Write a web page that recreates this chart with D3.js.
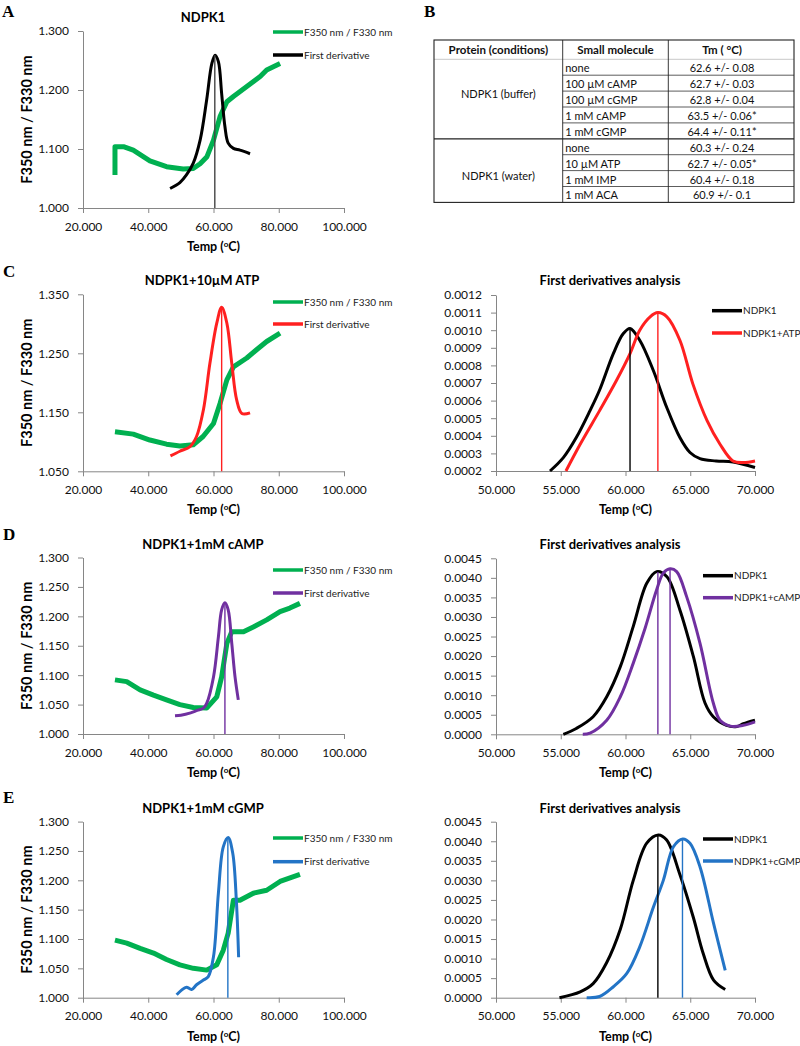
<!DOCTYPE html>
<html>
<head>
<meta charset="utf-8">
<script src="https://cdn.jsdelivr.net/npm/d3@7"></script>
<style>
  body { margin: 0; background: #fff; }
  svg { display: block; font-family: Lato, "Open Sans", sans-serif; }
</style>
</head>
<body>
<svg id="fig" width="800" height="1046"></svg>
<script>
// ---- data (temperature in C, ratio / first derivative) ----
const ratioA = [[29.8,1.056],[29.8,1.104],[32.4,1.104],[35.4,1.098],[40.5,1.080],[45.6,1.070],[50.7,1.066],[53.8,1.067],[55.9,1.075],[58,1.087],[60,1.115],[62,1.155],[64.1,1.180],[66.1,1.189],[70.2,1.206],[74.3,1.223],[76.3,1.234],[78.5,1.240],[80.4,1.245]];
const derivA = [[46.7,1.033],[49.7,1.043],[51.7,1.056],[53.8,1.076],[55.9,1.115],[57.9,1.183],[59.5,1.245],[60.5,1.259],[61.5,1.248],[62.5,1.194],[63.5,1.138],[64.5,1.110],[66.1,1.101],[68.1,1.098],[71.2,1.092]];

const ratioC = [[29.8,1.117],[35.4,1.113],[40.5,1.103],[45.6,1.096],[49.7,1.093],[53.8,1.095],[56.8,1.109],[60,1.131],[62,1.165],[64.1,1.205],[66.1,1.227],[70.2,1.242],[73.2,1.256],[76.3,1.270],[80.4,1.284]];
const derivC = [[46.8,1.076],[49.7,1.084],[52.8,1.092],[54.8,1.109],[56.9,1.154],[58.9,1.233],[61,1.301],[62.5,1.328],[64.1,1.301],[65.6,1.233],[67.1,1.171],[68.7,1.148],[71.2,1.149]];

const ratioD = [[29.8,1.092],[33.4,1.089],[37.5,1.075],[41.6,1.066],[45.6,1.058],[49.7,1.050],[53.8,1.045],[57.9,1.044],[61,1.063],[62.5,1.097],[64.1,1.154],[65.6,1.174],[69.2,1.174],[72.2,1.182],[76.3,1.194],[80.4,1.208],[83.4,1.214],[86.5,1.222]];
const derivD = [[48.2,1.031],[50,1.032],[53,1.036],[55,1.040],[56.9,1.044],[57.9,1.052],[60,1.097],[61.5,1.165],[62.5,1.211],[63.5,1.223],[64.5,1.211],[65.6,1.154],[66.6,1.097],[67.6,1.058]];

const ratioE = [[29.8,1.098],[33.4,1.093],[37.5,1.084],[41.6,1.076],[45.6,1.065],[49.7,1.056],[53.8,1.050],[57.9,1.047],[61,1.056],[63,1.081],[64.5,1.110],[66.1,1.166],[68.1,1.166],[72.2,1.178],[76.3,1.183],[80.4,1.198],[86.5,1.210]];
const derivE = [[48.7,1.005],[50.2,1.013],[51.7,1.018],[53.3,1.014],[54.8,1.022],[56.9,1.030],[58.4,1.036],[60,1.070],[61.5,1.178],[63,1.257],[64.5,1.273],[65.9,1.246],[67,1.166],[67.7,1.069]];

const ndpkC = [[54.17,0.0002],[55.2,0.000276],[56.2,0.00039],[57.26,0.000543],[58.0,0.00066],[59.06,0.000867],[59.83,0.000981],[60.35,0.00101],[61.1,0.000943],[62.15,0.000771],[63.18,0.000562],[64.2,0.00039],[64.98,0.000305],[65.75,0.00027],[67.0,0.000257],[68.3,0.000251],[70,0.00022]];
const atpC = [[55.4,0.0002],[56.5,0.000352],[58.0,0.000543],[59.3,0.000714],[60.35,0.000867],[61.1,0.001],[61.9,0.001076],[62.5,0.0011],[63.2,0.001076],[64.2,0.000943],[65.2,0.000695],[66.3,0.000486],[67.3,0.000352],[68.3,0.000257],[69.1,0.000248],[70,0.000257]];

const ndpkD = [[55.2,0],[56.2,0.00015],[57.5,0.00045],[58.55,0.00096],[59.6,0.00173],[60.6,0.00276],[61.64,0.00386],[62.4,0.00416],[63.2,0.00403],[64.2,0.00318],[65.24,0.00199],[66.14,0.0008],[66.78,0.00045],[67.8,0.00023],[68.6,0.0002],[69.1,0.00027],[70,0.00036]];
const campD = [[56.7,0],[57.26,0.00003],[58.55,0.00036],[59.6,0.00096],[60.6,0.00182],[61.5,0.0027],[62.4,0.00369],[62.92,0.00412],[63.44,0.00423],[63.95,0.00416],[64.72,0.00352],[65.75,0.00233],[66.78,0.0008],[67.3,0.00036],[68.1,0.00021],[69.1,0.00023],[70,0.00032]];

const ndpkE = [[54.9,0],[56.5,0.00015],[57.5,0.00036],[58.55,0.0009],[59.6,0.00175],[60.6,0.003],[61.64,0.00395],[62.53,0.00416],[63.18,0.00403],[64.2,0.00315],[65.24,0.00205],[66.0,0.00113],[66.8,0.00045],[67.7,0.00021]];
const cgmpE = [[57,0],[58,0.00003],[59.06,0.00028],[60.1,0.00062],[61.1,0.0013],[62.15,0.00231],[62.92,0.003],[63.7,0.00386],[64.42,0.00406],[64.98,0.00395],[65.75,0.00335],[66.8,0.0019],[67.7,0.0007]];

// Tm marker lines: [temperature, top value]
const tmA = [[60.4,1.259]];
const tmC = [[62.5,1.328]];
const tmD = [[63.5,1.223]];
const tmE = [[64.4,1.273]];
const tmCr = [[60.35,0.00101],[62.5,0.0011]];
const tmDr = [[62.5,0.00415],[63.44,0.00423]];
const tmEr = [[62.5,0.00416],[64.4,0.00406]];

// ticks
const xTicksLeft = [20, 40, 60, 80, 100];
const xTicksRight = [50, 55, 60, 65, 70];
const yTicksA = [1.0, 1.1, 1.2, 1.3];
const yTicksC = [1.05, 1.15, 1.25, 1.35];
const yTicksDE = [1.0, 1.05, 1.1, 1.15, 1.2, 1.25, 1.3];
const yTicksCr = [0.0002,0.0003,0.0004,0.0005,0.0006,0.0007,0.0008,0.0009,0.0010,0.0011,0.0012];
const yTicksDEr = [0,0.0005,0.001,0.0015,0.002,0.0025,0.003,0.0035,0.004,0.0045];

// table B
const tableHeader = ["Protein (conditions)", "Small molecule", "Tm ( \u00B0C)"];
const tableProtein = ["NDPK1 (buffer)", "NDPK1 (water)"];
const tableMolecule = ["none","100 \u00B5M cAMP","100 \u00B5M cGMP","1 mM cAMP","1 mM cGMP","none","10 \u00B5M ATP","1 mM IMP","1 mM ACA"];
const tableTm = ["62.6 +/- 0.08","62.7 +/- 0.03","62.8 +/- 0.04","63.5 +/- 0.06*","64.4 +/- 0.11*","60.3 +/- 0.24","62.7 +/- 0.05*","60.4 +/- 0.18","60.9 +/- 0.1"];

const GREEN = "#00b050", RED = "#ff2020", PURPLE = "#7030a0", BLUE = "#2374c6", BLACK = "#000";

const svg = d3.select("#fig");

function tempLabel(sel) {
  sel.append("tspan").text("Temp (");
  sel.append("tspan").attr("font-size", 8).attr("dy", -4).text("o");
  sel.append("tspan").attr("dy", 4).text("C)");
}

function drawChart(cfg) {
  const x = d3.scaleLinear().domain(cfg.xDomain).range(cfg.xRange);
  const y = d3.scaleLinear().domain(cfg.yDomain).range(cfg.yRange);
  const g = svg.append("g");

  const yAxis = g.append("g")
    .attr("transform", "translate(" + cfg.xRange[0] + ",0)")
    .call(d3.axisLeft(y).tickValues(cfg.yTicks).tickFormat(d3.format(cfg.yFmt)).tickSize(5).tickSizeOuter(0).tickPadding(9));
  const xAxis = g.append("g")
    .attr("transform", "translate(0," + cfg.yRange[0] + ")")
    .call(d3.axisBottom(x).tickValues(cfg.xTicks).tickFormat(d3.format(".3f")).tickSize(5).tickSizeOuter(0).tickPadding(9));
  [xAxis, yAxis].forEach(a => {
    a.select(".domain").attr("stroke", "#868686");
    a.selectAll(".tick line").attr("stroke", "#868686");
    a.selectAll(".tick text").attr("font-size", 12).attr("fill", "#111").attr("font-family", "Lato");
  });

  const line = d3.line().x(d => x(d[0])).y(d => y(d[1]));
  cfg.series.forEach(s => {
    g.append("path").datum(s.data)
      .attr("d", line.curve(s.smooth ? d3.curveCatmullRom : d3.curveLinear)(s.data))
      .attr("fill", "none").attr("stroke", s.color).attr("stroke-width", s.width)
      .attr("stroke-linejoin", "round").attr("stroke-linecap", "butt");
  });

  g.selectAll(".tm").data(cfg.tm).join("line")
    .attr("x1", d => x(d[0])).attr("x2", d => x(d[0]))
    .attr("y1", y(cfg.yDomain[0])).attr("y2", d => y(d[1]))
    .attr("stroke", (d, i) => cfg.tmColors[i]).attr("stroke-width", 1.4);

  // legend
  cfg.series.forEach((s, i) => {
    const ly = cfg.legendY[i];
    g.append("line").attr("x1", cfg.legendX).attr("x2", cfg.legendX + 30)
      .attr("y1", ly).attr("y2", ly).attr("stroke", s.color).attr("stroke-width", 3.5);
    g.append("text").attr("x", cfg.legendX + 31).attr("y", ly).attr("dy", "0.35em")
      .attr("font-size", 10).attr("fill", "#222").text(s.name);
  });

  g.append("text").attr("x", cfg.titleX).attr("y", cfg.titleY).attr("dy", "0.35em")
    .attr("text-anchor", "middle").attr("font-weight", "bold").attr("font-size", 13).text(cfg.title);

  g.append("text").attr("x", (cfg.xRange[0] + cfg.xRange[1]) / 2).attr("y", cfg.yRange[0] + 43)
    .attr("text-anchor", "middle").attr("font-weight", "bold").attr("font-size", 12.5).call(tempLabel);

  if (cfg.yLabel) {
    const cy = (cfg.yRange[0] + cfg.yRange[1]) / 2;
    g.append("text").attr("transform", "translate(27," + cy + ") rotate(-90)")
      .attr("dy", "0.35em").attr("text-anchor", "middle").attr("font-weight", "bold")
      .attr("font-size", 14.5).text(cfg.yLabel);
  }
}

const leftX = [83, 344], rightX = [496, 755];
const yLab = "F350 nm / F330 nm";

drawChart({ xDomain: [20, 100], xRange: leftX, yDomain: [1.0, 1.3], yRange: [208, 31], xTicks: xTicksLeft, yTicks: yTicksA, yFmt: ".3f",
  series: [{ data: ratioA, color: GREEN, width: 5, name: "F350 nm / F330 nm" }, { data: derivA, color: BLACK, width: 3, smooth: true, name: "First derivative" }],
  tm: tmA, tmColors: ["#444"], legendX: 273, legendY: [32, 55], title: "NDPK1", titleX: 203, titleY: 17, yLabel: yLab });

drawChart({ xDomain: [20, 100], xRange: leftX, yDomain: [1.05, 1.35], yRange: [471.3, 294.3], xTicks: xTicksLeft, yTicks: yTicksC, yFmt: ".3f",
  series: [{ data: ratioC, color: GREEN, width: 5, name: "F350 nm / F330 nm" }, { data: derivC, color: RED, width: 3, smooth: true, name: "First derivative" }],
  tm: tmC, tmColors: [RED], legendX: 273, legendY: [302, 324], title: "NDPK1+10\u00B5M ATP", titleX: 202, titleY: 280, yLabel: yLab });

drawChart({ xDomain: [20, 100], xRange: leftX, yDomain: [1.0, 1.3], yRange: [734, 557.5], xTicks: xTicksLeft, yTicks: yTicksDE, yFmt: ".3f",
  series: [{ data: ratioD, color: GREEN, width: 5, name: "F350 nm / F330 nm" }, { data: derivD, color: PURPLE, width: 3, smooth: true, name: "First derivative" }],
  tm: tmD, tmColors: [PURPLE], legendX: 273, legendY: [570, 593], title: "NDPK1+1mM cAMP", titleX: 203, titleY: 544, yLabel: yLab });

drawChart({ xDomain: [20, 100], xRange: leftX, yDomain: [1.0, 1.3], yRange: [997.7, 821.6], xTicks: xTicksLeft, yTicks: yTicksDE, yFmt: ".3f",
  series: [{ data: ratioE, color: GREEN, width: 5, name: "F350 nm / F330 nm" }, { data: derivE, color: BLUE, width: 3, smooth: true, name: "First derivative" }],
  tm: tmE, tmColors: [BLUE], legendX: 273, legendY: [838, 861.7], title: "NDPK1+1mM cGMP", titleX: 203, titleY: 808, yLabel: yLab });

drawChart({ xDomain: [50, 70], xRange: rightX, yDomain: [0.0002, 0.0012], yRange: [471, 295], xTicks: xTicksRight, yTicks: yTicksCr, yFmt: ".4f",
  series: [{ data: ndpkC, color: BLACK, width: 3, smooth: true, name: "NDPK1" }, { data: atpC, color: RED, width: 3, smooth: true, name: "NDPK1+ATP" }],
  tm: tmCr, tmColors: [BLACK, RED], legendX: 712, legendY: [310.7, 333], title: "First derivatives analysis", titleX: 610, titleY: 280 });

drawChart({ xDomain: [50, 70], xRange: rightX, yDomain: [0, 0.0045], yRange: [734.3, 558.3], xTicks: xTicksRight, yTicks: yTicksDEr, yFmt: ".4f",
  series: [{ data: ndpkD, color: BLACK, width: 3, smooth: true, name: "NDPK1" }, { data: campD, color: PURPLE, width: 3, smooth: true, name: "NDPK1+cAMP" }],
  tm: tmDr, tmColors: [PURPLE, PURPLE], legendX: 703, legendY: [575.7, 597.7], title: "First derivatives analysis", titleX: 610, titleY: 544 });

drawChart({ xDomain: [50, 70], xRange: rightX, yDomain: [0, 0.0045], yRange: [997.7, 821.7], xTicks: xTicksRight, yTicks: yTicksDEr, yFmt: ".4f",
  series: [{ data: ndpkE, color: BLACK, width: 3, smooth: true, name: "NDPK1" }, { data: cgmpE, color: BLUE, width: 3, smooth: true, name: "NDPK1+cGMP" }],
  tm: tmEr, tmColors: [BLACK, BLUE], legendX: 703, legendY: [839, 861], title: "First derivatives analysis", titleX: 610, titleY: 808 });

// panel letters
[["A", 2, 17], ["B", 424, 17], ["C", 3, 277], ["D", 3, 540], ["E", 3, 803]].forEach(p => {
  svg.append("text").attr("x", p[1]).attr("y", p[2]).attr("font-family", "Liberation Serif, serif")
    .attr("font-weight", "bold").attr("font-size", 17).text(p[0]);
});

// ---- table B ----
const tb = svg.append("g").attr("font-size", 11).attr("fill", "#111");
const colX = [434, 562.7, 668.3, 794];
const headTop = 40, headBot = 59.3, rowH = 15.9;
const rowY = i => headBot + i * rowH;

tb.append("line").attr("x1", colX[0]).attr("x2", colX[3]).attr("y1", headBot).attr("y2", headBot).attr("stroke", "#c8c8c8");
tableMolecule.forEach((m, i) => {
  if (i > 0 && i !== 5) {
    tb.append("line").attr("x1", colX[1]).attr("x2", colX[3]).attr("y1", rowY(i)).attr("y2", rowY(i)).attr("stroke", "#333").attr("stroke-width", 0.8);
  }
  tb.append("text").attr("x", colX[1] + 2.5).attr("y", rowY(i) + rowH - 3).text(m);
  tb.append("text").attr("x", 722).attr("y", rowY(i) + rowH - 3).attr("text-anchor", "middle").text(tableTm[i]);
});
tb.append("line").attr("x1", colX[0]).attr("x2", colX[3]).attr("y1", rowY(5)).attr("y2", rowY(5)).attr("stroke", "#222").attr("stroke-width", 1.2);
tb.append("line").attr("x1", colX[1]).attr("x2", colX[1]).attr("y1", headTop).attr("y2", rowY(9)).attr("stroke", "#222").attr("stroke-width", 0.9);
tb.append("line").attr("x1", colX[2]).attr("x2", colX[2]).attr("y1", headTop).attr("y2", rowY(9)).attr("stroke", "#222").attr("stroke-width", 0.9);
tb.append("rect").attr("x", colX[0]).attr("y", headTop).attr("width", colX[3] - colX[0]).attr("height", rowY(9) - headTop)
  .attr("fill", "none").attr("stroke", "#222").attr("stroke-width", 1.1);

tableHeader.forEach((h, i) => {
  tb.append("text").attr("x", (colX[i] + colX[i + 1]) / 2 - (i === 2 ? 9 : 0)).attr("y", headTop + 14)
    .attr("text-anchor", "middle").attr("font-weight", "bold").attr("font-size", 11.5).text(h);
});
tb.append("text").attr("x", (colX[0] + colX[1]) / 2).attr("y", 98).attr("text-anchor", "middle").text(tableProtein[0]);
tb.append("text").attr("x", (colX[0] + colX[1]) / 2).attr("y", 180).attr("text-anchor", "middle").text(tableProtein[1]);
</script>
</body>
</html>
